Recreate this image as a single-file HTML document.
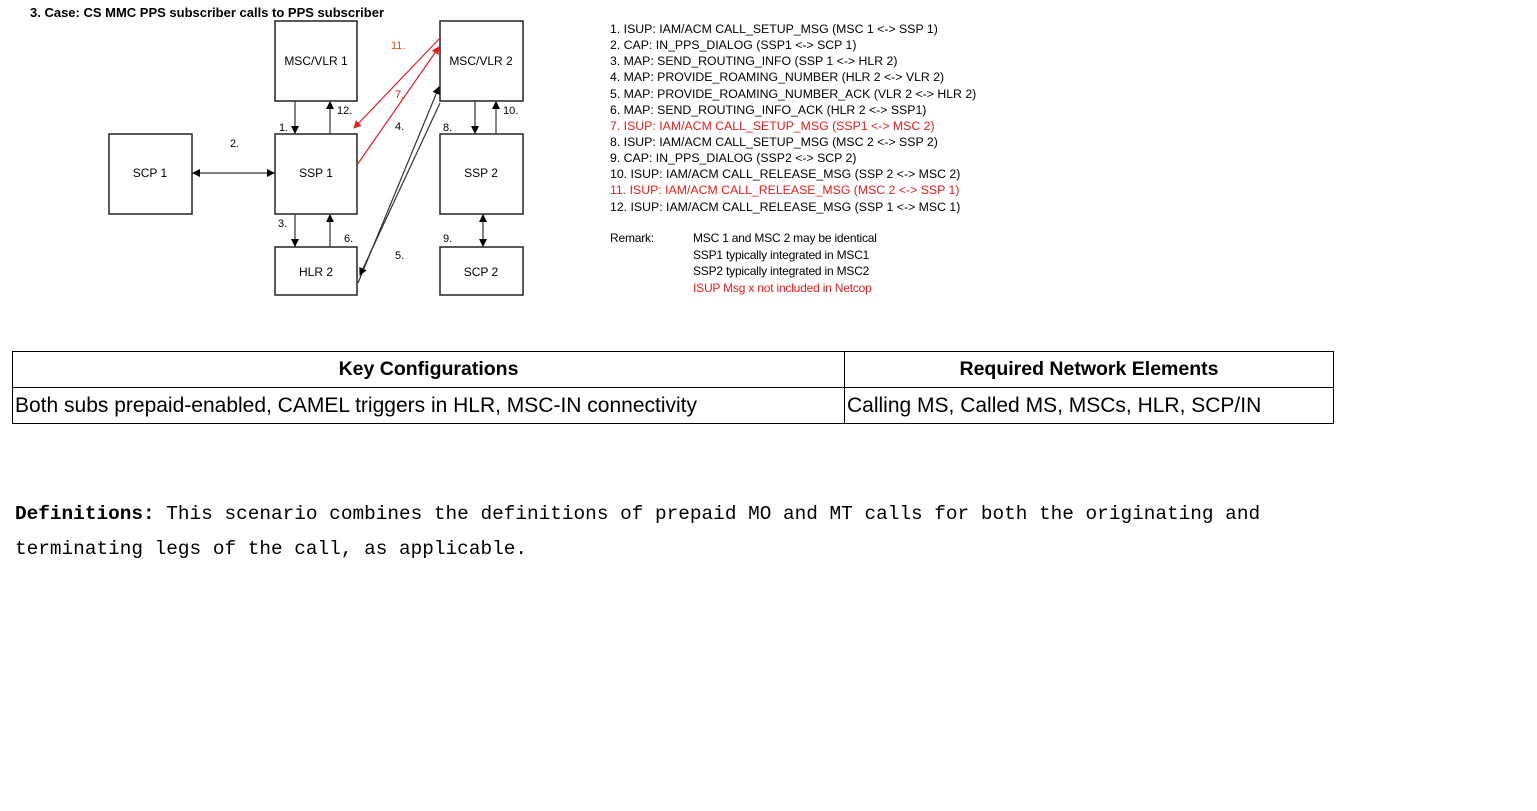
<!DOCTYPE html>
<html><head><meta charset="utf-8">
<style>
body{margin:0;width:1537px;height:811px;background:#fff;position:relative;overflow:hidden;font-family:"Liberation Sans",sans-serif}
svg{position:absolute;left:0;top:0}
table{position:absolute;left:12px;top:351px;border-collapse:collapse;font-family:"Liberation Sans",sans-serif;color:#000}
td,th{border:1.5px solid #000;padding:0 2px;height:35px;white-space:nowrap}
th{text-align:center;font-weight:bold;font-size:19.5px}
td{text-align:left;font-size:21px}
.def{position:absolute;left:15px;top:497px;font-family:"Liberation Mono",monospace;font-size:19.4px;line-height:35px;color:#000;white-space:pre}
</style></head><body>
<svg width="1537" height="340" font-family="Liberation Sans, sans-serif">
<defs>
<marker id="a" markerWidth="8" markerHeight="8" refX="7" refY="4" orient="auto" markerUnits="userSpaceOnUse"><path d="M0,0 L8,4 L0,8 z" fill="#000"/></marker>
<marker id="r" markerWidth="8" markerHeight="8" refX="7" refY="4" orient="auto" markerUnits="userSpaceOnUse"><path d="M0,0 L8,4 L0,8 z" fill="#e02020"/></marker>
<marker id="s" markerWidth="8" markerHeight="8" refX="1" refY="4" orient="auto" markerUnits="userSpaceOnUse"><path d="M8,0 L0,4 L8,8 z" fill="#000"/></marker>
</defs>
<text x="30" y="17" font-size="13" font-weight="bold">3. Case: CS MMC PPS subscriber calls to PPS subscriber</text>
<g fill="#fff" stroke="#222" stroke-width="1.5">
<rect x="275" y="21" width="82" height="80"/>
<rect x="440" y="21" width="83" height="80"/>
<rect x="109" y="134" width="83" height="80"/>
<rect x="275" y="134" width="82" height="80"/>
<rect x="440" y="134" width="83" height="80"/>
<rect x="275" y="247" width="82" height="48"/>
<rect x="440" y="247" width="83" height="48"/>
</g>
<g font-size="12" text-anchor="middle">
<text x="316" y="65">MSC/VLR 1</text>
<text x="481" y="65">MSC/VLR 2</text>
<text x="150" y="177">SCP 1</text>
<text x="316" y="177">SSP 1</text>
<text x="481" y="177">SSP 2</text>
<text x="316" y="276">HLR 2</text>
<text x="481" y="276">SCP 2</text>
</g>
<g stroke="#333" stroke-width="1.2" fill="none">
<line x1="295" y1="101" x2="295" y2="133" marker-end="url(#a)"/>
<line x1="330" y1="134" x2="330" y2="102" marker-end="url(#a)"/>
<line x1="295" y1="214" x2="295" y2="246" marker-end="url(#a)"/>
<line x1="330" y1="247" x2="330" y2="215" marker-end="url(#a)"/>
<line x1="475" y1="101" x2="475" y2="133" marker-end="url(#a)"/>
<line x1="496" y1="134" x2="496" y2="102" marker-end="url(#a)"/>
<line x1="193" y1="173" x2="274" y2="173" marker-start="url(#s)" marker-end="url(#a)"/>
<line x1="483" y1="215" x2="483" y2="246" marker-start="url(#s)" marker-end="url(#a)"/>
<line x1="358" y1="283" x2="439" y2="87" marker-end="url(#a)"/>
<line x1="440" y1="103" x2="360" y2="275" marker-end="url(#a)"/>
</g>
<g stroke="#e02020" stroke-width="1.2" fill="none">
<line x1="440" y1="38" x2="354" y2="128" marker-end="url(#r)"/>
<line x1="357" y1="165" x2="439" y2="47" marker-end="url(#r)"/>
</g>
<g font-size="11">
<text x="391" y="49" fill="#e05020">11.</text>
<text x="395" y="98" fill="#e02020">7.</text>
<text x="395" y="130">4.</text>
<text x="337" y="114">12.</text>
<text x="503" y="114">10.</text>
<text x="279" y="131">1.</text>
<text x="443" y="131">8.</text>
<text x="230" y="147">2.</text>
<text x="278" y="227">3.</text>
<text x="344" y="242">6.</text>
<text x="443" y="242">9.</text>
<text x="395" y="259">5.</text>
</g>
<g font-size="12.3">
<text x="610" y="33">1. ISUP: IAM/ACM CALL_SETUP_MSG (MSC 1 &lt;-&gt; SSP 1)</text>
<text x="610" y="49">2. CAP: IN_PPS_DIALOG (SSP1 &lt;-&gt; SCP 1)</text>
<text x="610" y="65">3. MAP: SEND_ROUTING_INFO (SSP 1 &lt;-&gt; HLR 2)</text>
<text x="610" y="81">4. MAP: PROVIDE_ROAMING_NUMBER (HLR 2 &lt;-&gt; VLR 2)</text>
<text x="610" y="98">5. MAP: PROVIDE_ROAMING_NUMBER_ACK (VLR 2 &lt;-&gt; HLR 2)</text>
<text x="610" y="114">6. MAP: SEND_ROUTING_INFO_ACK (HLR 2 &lt;-&gt; SSP1)</text>
<text x="610" y="130" fill="#e02020">7. ISUP: IAM/ACM CALL_SETUP_MSG (SSP1 &lt;-&gt; MSC 2)</text>
<text x="610" y="146">8. ISUP: IAM/ACM CALL_SETUP_MSG (MSC 2 &lt;-&gt; SSP 2)</text>
<text x="610" y="162">9. CAP: IN_PPS_DIALOG (SSP2 &lt;-&gt; SCP 2)</text>
<text x="610" y="178">10. ISUP: IAM/ACM CALL_RELEASE_MSG (SSP 2 &lt;-&gt; MSC 2)</text>
<text x="610" y="194" fill="#e02020">11. ISUP: IAM/ACM CALL_RELEASE_MSG (MSC 2 &lt;-&gt; SSP 1)</text>
<text x="610" y="211">12. ISUP: IAM/ACM CALL_RELEASE_MSG (SSP 1 &lt;-&gt; MSC 1)</text>
</g>
<g font-size="12" letter-spacing="-0.2">
<text x="610" y="242">Remark:</text>
<text x="693" y="242">MSC 1 and MSC 2 may be identical</text>
<text x="693" y="259">SSP1 typically integrated in MSC1</text>
<text x="693" y="275">SSP2 typically integrated in MSC2</text>
<text x="693" y="292" fill="#e02020">ISUP Msg x not included in Netcop</text>
</g>
</svg>
<table>
<tr><th style="width:827px">Key Configurations</th><th style="width:484px">Required Network Elements</th></tr>
<tr><td>Both subs prepaid-enabled, CAMEL triggers in HLR, MSC-IN connectivity</td><td>Calling MS, Called MS, MSCs, HLR, SCP/IN</td></tr>
</table>
<div class="def"><b>Definitions:</b> This scenario combines the definitions of prepaid MO and MT calls for both the originating and
terminating legs of the call, as applicable.</div>
</body></html>
